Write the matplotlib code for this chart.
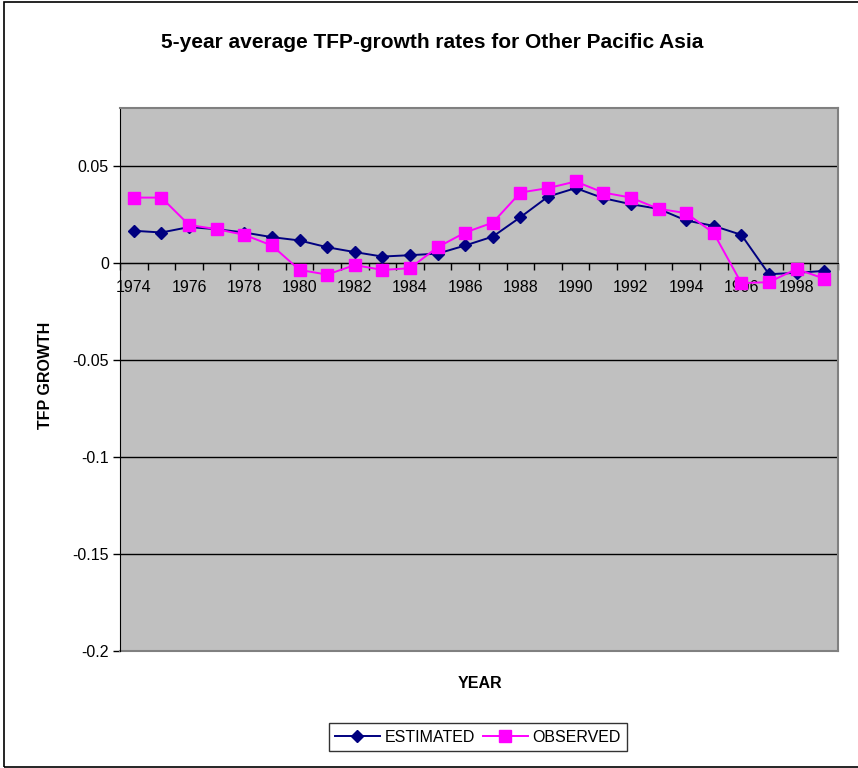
import matplotlib.pyplot as plt
import numpy as np
from matplotlib.patches import Rectangle

plt.rcParams['font.family'] = ['Liberation Sans', 'DejaVu Sans']

# data
years = list(range(1974, 2000))
estimated = [0.0167, 0.0158, 0.0186, 0.0175, 0.0158, 0.0134, 0.0117, 0.0082, 0.0057, 0.0034,
             0.0041, 0.0049, 0.0091, 0.0137, 0.0237, 0.0343, 0.0387, 0.0335, 0.0304, 0.0280,
             0.0220, 0.0192, 0.0146, -0.0057, -0.0050, -0.0040]
observed = [0.0338, 0.0338, 0.0197, 0.0175, 0.0146, 0.0091, -0.0035, -0.0059, -0.0010, -0.0035,
            -0.0026, 0.0082, 0.0158, 0.0209, 0.0364, 0.0387, 0.0421, 0.0364, 0.0338, 0.0280,
            0.0258, 0.0155, -0.0103, -0.0098, -0.0030, -0.0080]
yticks = [-0.2, -0.15, -0.1, -0.05, 0, 0.05]
ytick_labels = ['-0.2', '-0.15', '-0.1', '-0.05', '0', '0.05']

W, H = 858, 768
fig = plt.figure(figsize=(W / 100, H / 100), dpi=100)
fig.patch.set_facecolor('white')

# outer chart border
fig.add_artist(Rectangle((4 / W, 1 / H), 1.0, (H - 3) / H, transform=fig.transFigure,
                         fill=False, edgecolor='black', linewidth=1.2))

ax = fig.add_axes([120 / W, (H - 651) / H, 718 / W, (651 - 108) / H])
ax.set_facecolor('#C0C0C0')

x = np.arange(len(years))
ax.plot(x, estimated, color='#000080', marker='D', markersize=6.5, linewidth=1.4,
        label='ESTIMATED', zorder=4)
ax.plot(x, observed, color='#FF00FF', marker='s', markersize=8.5, linewidth=1.4,
        label='OBSERVED', zorder=5)

ax.set_xlim(-0.5, len(years) - 0.5)
ax.set_ylim(-0.2, 0.08)

# horizontal gridlines
for v in yticks[1:]:
    ax.axhline(v, color='black', linewidth=1.0, zorder=1)
ax.axhline(-0.2, color='#808080', linewidth=1.5, zorder=2, clip_on=False)

ax.spines['bottom'].set_position(('data', 0))
ax.spines['bottom'].set_color('black')
ax.spines['bottom'].set_zorder(3)
ax.spines['left'].set_color('black')
ax.spines['top'].set_color('#808080')
ax.spines['right'].set_color('#808080')
ax.spines['top'].set_linewidth(1.5)
ax.spines['right'].set_linewidth(1.5)

ax.set_yticks(yticks)
ax.set_yticklabels(ytick_labels)
ax.tick_params(axis='y', direction='out', length=5, width=1, labelsize=11.5, pad=3)

ax.set_xticks(x[::2])
ax.set_xticklabels([str(y) for y in years[::2]])
ax.set_xticks(np.arange(-0.5, len(years) + 0.5, 1), minor=True)
ax.tick_params(axis='x', which='major', length=0, labelsize=11.5, pad=12)
ax.tick_params(axis='x', which='minor', direction='out', length=5, width=1)

fig.text(432 / W, 1 - 42 / H, '5-year average TFP-growth rates for Other Pacific Asia',
         fontsize=15, fontweight='bold', ha='center', va='center')

fig.text(480 / W, 1 - 683 / H, 'YEAR', fontsize=11.5, fontweight='bold',
         ha='center', va='center')
fig.text(45 / W, 1 - 375 / H, 'TFP GROWTH', fontsize=11.5, fontweight='bold',
         ha='center', va='center', rotation=90)

leg = fig.legend(loc='center', bbox_to_anchor=(478 / W, 1 - 737 / H), ncol=2,
                 frameon=True, fancybox=False, edgecolor='black', fontsize=11.5,
                 handlelength=2.8, columnspacing=0.5, handletextpad=0.3,
                 borderpad=0.4)
leg.get_frame().set_linewidth(1.0)

fig.savefig('out.png', dpi=100)
